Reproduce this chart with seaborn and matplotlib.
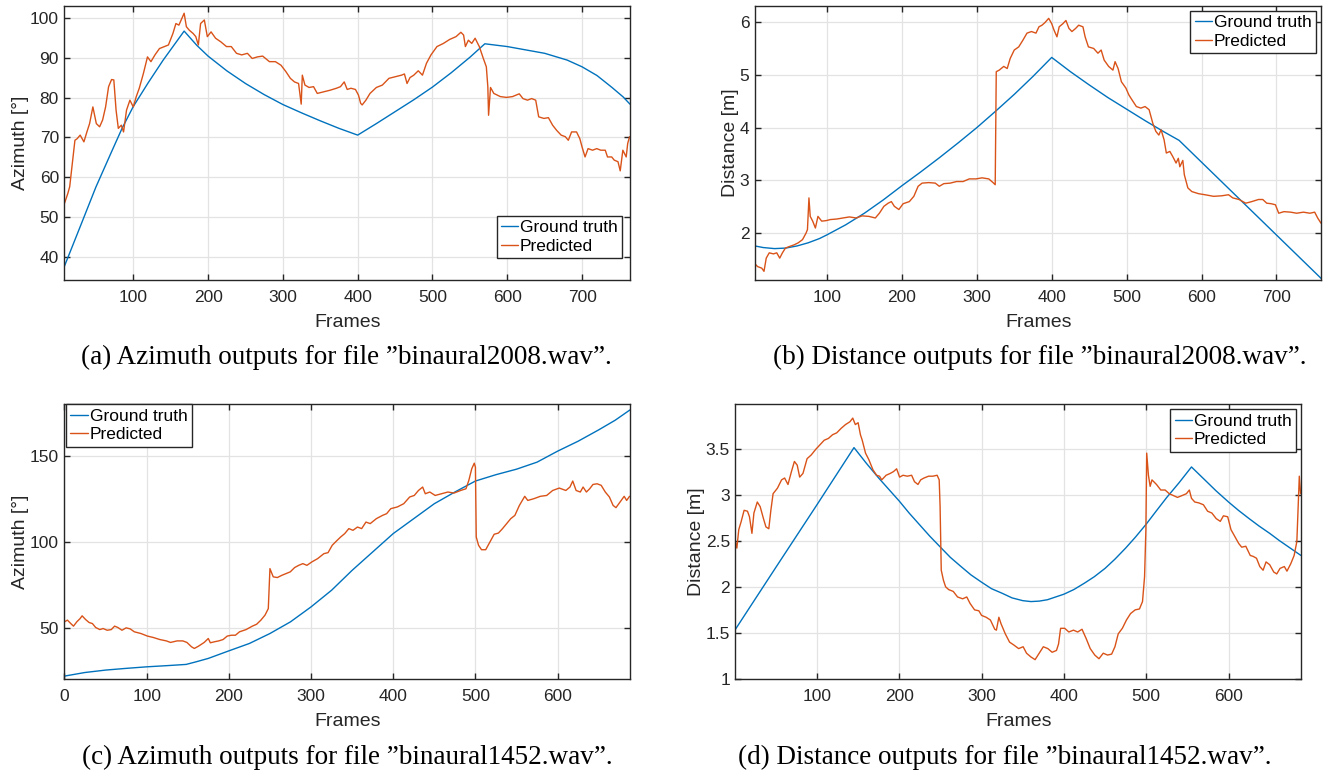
import numpy as np
import pandas as pd
import matplotlib
matplotlib.use("Agg")
import matplotlib.pyplot as plt
import seaborn as sns
from matplotlib.ticker import FuncFormatter

# ---------------- data ----------------
series_names = ["Ground truth", "Predicted"]

# (a) azimuth, binaural2008
a_gt_x = [8, 30, 50, 70, 85, 100, 120, 140, 168, 185, 200, 225, 250, 275, 300, 325, 350, 375, 400,
          425, 450, 475, 500, 525, 550, 570, 600, 650, 680, 700, 720, 740, 755, 764]
a_gt_y = [37.6, 48.0, 57.5, 66.0, 72.3, 77.8, 83.8, 89.5, 96.8, 93.2, 90.5, 86.8, 83.6, 80.8, 78.3, 76.2, 74.2, 72.3, 70.6,
          73.5, 76.5, 79.5, 82.7, 86.3, 90.2, 93.6, 92.9, 91.2, 89.5, 87.8, 85.6, 82.6, 80.2, 78.4]
a_pr_x = [8, 12.5, 15, 17, 19, 22, 25, 29, 34, 38, 41.6, 46, 50.6, 55, 59, 63, 67, 71, 74, 77, 80, 84, 87, 91, 95.5, 100,
          104, 108, 113.5, 119, 123.6, 129, 135, 141.5, 147, 153, 157, 161, 165, 168, 171, 175, 180, 183.6, 187, 190, 195,
          199, 204, 210, 217, 224.6, 231, 238, 245, 252.6, 259, 266, 273, 282, 290, 297.5, 304, 310, 315.5, 321, 324.5,
          326, 329.5, 335, 341, 346, 354.8, 363, 371.6, 377, 382, 386, 391, 397, 401, 404, 406, 411, 416.5, 425, 433,
          441.8, 450, 458.6, 462.5, 466, 470, 475, 481, 486.6, 492, 498, 506, 514.7, 523, 531.5, 538, 541.6, 544, 548,
          552.5, 557, 562.6, 568, 572, 574, 575, 577.6, 582, 590.7, 599, 607, 616, 621, 627, 632.6, 638, 642, 649, 655,
          660.6, 666, 672, 677.6, 681.6, 686, 692.6, 697, 700, 704, 708, 714, 719.6, 725, 731, 734, 739.6, 743, 748, 751,
          754.5, 759, 761, 763.5]
a_pr_y = [53.4, 55.9, 57.6, 61.0, 64.3, 69.3, 69.7, 70.6, 68.9, 71.4, 73.5, 77.7, 73.5, 72.7, 74.4, 77.7, 82.8, 84.6, 84.5,
          76.9, 72.3, 73.1, 71.4, 76.9, 79.4, 77.7, 80.3, 82.4, 86.1, 90.3, 89.1, 90.8, 92.4, 92.9, 93.3, 96.2, 98.7,
          98.3, 100.0, 101.3, 97.9, 97.0, 96.2, 95.4, 93.3, 98.7, 99.6, 95.4, 96.6, 95.0, 94.1, 92.9, 92.9, 91.2, 90.8,
          91.2, 89.9, 90.3, 90.5, 89.1, 89.1, 88.2, 86.6, 84.9, 84.0, 83.6, 78.4, 85.7, 83.2, 82.6, 82.8, 81.1, 81.5,
          81.9, 82.4, 82.8, 84.0, 82.1, 82.4, 82.1, 80.7, 78.6, 78.2, 79.4, 81.1, 82.6, 83.2, 84.9, 85.3, 85.7, 86.0,
          83.6, 85.1, 85.7, 86.8, 85.7, 88.7, 90.8, 92.9, 93.7, 94.7, 95.4, 96.5, 95.8, 92.9, 94.5, 93.7, 95.0, 92.9,
          89.9, 87.8, 82.8, 75.6, 82.6, 81.1, 80.3, 80.1, 80.3, 81.0, 79.8, 79.4, 79.8, 79.4, 75.2, 74.8, 75.0, 73.1,
          71.8, 70.6, 70.2, 69.3, 71.4, 71.4, 69.7, 67.6, 65.1, 67.2, 66.8, 67.2, 66.8, 66.8, 65.1, 65.1, 64.3, 63.9,
          61.6, 66.8, 65.1, 68.5, 70.2]

# (b) distance, binaural2008
b_gt_x = [4, 15, 30, 45, 60, 75, 90, 100, 125, 150, 175, 200, 225, 250, 275, 300, 325, 350, 375, 400,
          425, 450, 475, 500, 525, 550, 570, 760]
b_gt_y = [1.76, 1.73, 1.71, 1.72, 1.76, 1.82, 1.9, 1.97, 2.16, 2.38, 2.63, 2.9, 3.16, 3.43, 3.71, 4.0, 4.31, 4.63, 4.97,
          5.33, 5.06, 4.81, 4.57, 4.35, 4.13, 3.92, 3.76, 1.14]
b_pr_x = [4, 7.4, 13, 16, 19, 23, 28.6, 33, 37, 40.6, 44.6, 50, 56, 61.7, 67.4, 72, 74, 76, 77.7, 81, 84.6, 88, 93, 99,
          104.6, 113, 121.7, 130, 139, 147, 156, 164.6, 170, 176, 181.7, 186, 190, 196, 201.7, 210, 216, 221.7, 227, 236,
          244.6, 250, 256, 264.6, 273, 281.7, 290, 299, 307, 316, 321.7, 324.6, 326, 330, 336, 340.6, 344.6, 350, 356,
          361.7, 367, 373, 379, 383, 387, 391, 396, 400, 403, 407, 410, 415, 419, 423, 427, 432, 436, 441.7, 444.6, 449,
          456, 461.7, 466, 470, 476, 481.7, 484.6, 488.6, 493, 499, 503, 507, 513, 519, 524.6, 530, 535, 539, 543, 546,
          550, 553, 557.7, 561.7, 566, 569, 571, 575, 577, 581.7, 587, 596, 604.6, 616, 627, 636, 641.7, 650, 659, 667,
          676, 681.7, 687, 693, 698.6, 703, 710, 719, 727, 736, 744.6, 751, 755, 759.5]
b_pr_y = [1.42, 1.37, 1.34, 1.28, 1.53, 1.63, 1.61, 1.63, 1.53, 1.63, 1.72, 1.75, 1.78, 1.82, 1.88, 2.0, 2.07, 2.67, 2.32,
          2.23, 2.1, 2.32, 2.23, 2.24, 2.26, 2.27, 2.29, 2.31, 2.29, 2.33, 2.32, 2.29, 2.38, 2.51, 2.57, 2.6, 2.51, 2.45,
          2.56, 2.6, 2.7, 2.89, 2.95, 2.96, 2.95, 2.89, 2.94, 2.95, 2.98, 2.98, 3.03, 3.03, 3.05, 3.03, 2.96, 2.92, 5.06,
          5.09, 5.16, 5.12, 5.31, 5.47, 5.53, 5.66, 5.79, 5.82, 5.79, 5.91, 5.94, 5.99, 6.07, 5.97, 5.85, 5.72, 5.91,
          5.97, 6.03, 5.88, 5.82, 5.88, 5.94, 5.91, 5.72, 5.53, 5.5, 5.41, 5.47, 5.28, 5.16, 5.09, 5.25, 5.12, 4.87, 4.75,
          4.62, 4.53, 4.4, 4.37, 4.4, 4.34, 4.08, 3.93, 3.86, 3.96, 3.77, 3.52, 3.55, 3.45, 3.33, 3.42, 3.26, 3.38, 3.11,
          2.86, 2.79, 2.75, 2.73, 2.7, 2.71, 2.73, 2.67, 2.64, 2.57, 2.6, 2.64, 2.64, 2.57, 2.56, 2.54, 2.38, 2.41, 2.4,
          2.38, 2.4, 2.38, 2.4, 2.29, 2.19]

# (c) azimuth, binaural1452
c_gt_x = [0, 25, 50, 75, 100, 125, 148, 160, 175, 200, 225, 250, 275, 300, 325, 350, 375, 400, 425, 450, 475, 500, 525,
          550, 575, 600, 625, 650, 670, 688]
c_gt_y = [21.7, 23.8, 25.2, 26.2, 27.1, 27.8, 28.5, 30.0, 32.0, 36.4, 40.7, 46.5, 53.3, 62.0, 71.7, 83.3, 94.0, 104.7,
          113.4, 122.1, 128.9, 135.3, 139.0, 142.2, 146.3, 152.7, 158.5, 165.1, 170.7, 176.7]
c_pr_x = [0, 3.6, 7.7, 11, 15, 19, 21.5, 25.6, 30, 34, 38, 43, 47, 52, 57, 61, 65, 70, 75, 80, 85, 93, 101, 108, 116, 124,
          129, 137, 144, 149, 154.5, 158, 163, 170, 175, 177.5, 182.6, 187.7, 193, 198, 203, 208, 213, 221, 228.6, 233.8,
          239, 244, 248, 250, 254, 259, 264.5, 269.6, 274.7, 280, 285, 290, 295, 301, 308, 315.6, 320.7, 325.8, 331, 336,
          341, 346, 351, 356.5, 361.6, 366.8, 372, 379.5, 387, 392, 397, 405, 412.8, 420, 425.6, 430.7, 435.8, 439, 444.5,
          451, 459, 466.5, 474, 482, 488.5, 492, 495.5, 498.6, 500, 501, 503.8, 507.4, 512.5, 517.6, 522.8, 528, 533, 538,
          543, 548, 553.5, 560, 563.7, 571, 579, 586.7, 594, 602, 610, 615, 618.4, 622.5, 627.6, 631, 635, 639, 643, 648,
          653, 658, 663, 667.5, 671, 676, 681, 684, 687.5]
c_pr_y = [53.3, 54.3, 52.3, 50.8, 53.3, 55.2, 56.8, 54.7, 52.9, 52.3, 50.0, 48.8, 49.4, 48.4, 48.8, 50.8, 50.0, 48.4, 49.8,
          49.2, 47.5, 46.5, 45.0, 44.2, 43.0, 42.2, 41.3, 42.2, 42.2, 41.3, 38.8, 37.8, 39.1, 41.3, 43.6, 41.1, 41.7, 42.2,
          43.0, 45.0, 45.5, 45.5, 47.5, 48.8, 50.8, 51.9, 54.3, 57.2, 61.0, 84.3, 79.5, 79.1, 80.4, 81.4, 82.4, 84.9, 86.2,
          87.2, 86.2, 88.2, 90.1, 93.0, 93.6, 97.9, 100.4, 102.7, 104.7, 107.6, 106.6, 108.5, 107.6, 111.4, 110.5, 113.4,
          115.3, 116.3, 119.2, 120.2, 122.1, 126.0, 126.9, 129.8, 131.8, 127.9, 128.9, 126.9, 127.9, 128.9, 128.3, 129.8,
          130.8, 135.7, 142.4, 145.7, 143.4, 102.7, 97.9, 95.3, 95.3, 99.8, 104.3, 105.0, 107.6, 110.5, 113.4, 115.3,
          121.1, 126.4, 124.0, 125.0, 126.4, 126.9, 129.8, 131.2, 129.8, 131.8, 135.3, 129.8, 128.9, 131.8, 128.9, 130.8,
          133.3, 133.7, 132.8, 128.9, 126.0, 121.1, 119.8, 123.1, 126.4, 124.0, 126.4]

# (d) distance, binaural1452
d_gt_x = [1, 50, 100, 145, 160, 175, 190, 200, 212, 225, 237, 250, 262, 275, 287, 300, 312, 325, 337, 350, 360, 370, 380,
          390, 400, 412, 425, 437, 450, 462, 475, 487, 500, 512, 525, 540, 555, 570, 585, 600, 612, 625, 637, 650, 662,
          675, 688]
d_gt_y = [1.54, 2.21, 2.89, 3.51, 3.34, 3.18, 3.03, 2.93, 2.8, 2.67, 2.55, 2.43, 2.32, 2.22, 2.13, 2.05, 1.98, 1.93, 1.88,
          1.85, 1.84, 1.845, 1.86, 1.89, 1.92, 1.97, 2.04, 2.11, 2.2, 2.3, 2.42, 2.54, 2.68, 2.82, 2.97, 3.13, 3.3, 3.17,
          3.04, 2.92, 2.83, 2.74, 2.66, 2.58, 2.5, 2.42, 2.34]
d_pr_x = [1, 2.7, 5, 8, 11.5, 15.6, 18, 21, 23.4, 27.5, 31, 35, 38, 41.5, 44, 46.7, 52, 57, 60.7, 64.8, 69, 72.6, 76, 79, 83,
          88, 93, 98.4, 103.6, 108.8, 114, 119, 124, 129.5, 134.7, 140, 143.5, 146.6, 150, 152.8, 155, 159, 163, 168, 172.5,
          176, 178.7, 184, 189, 193, 196.8, 200.4, 204.6, 209.7, 215, 218.5, 222.7, 226, 230, 235.6, 240.8, 246, 248.5,
          249.6, 251, 253.7, 256.3, 260, 265.6, 270.8, 277, 282, 286, 291.5, 296.7, 300, 305.5, 310.7, 316, 318, 321,
          323.6, 328.8, 334, 339, 345, 350.5, 354.6, 359.8, 365, 370, 375, 380.5, 385.7, 391, 393.5, 396, 401, 406, 411.6,
          416.8, 422, 427, 432, 437.5, 442.6, 447.8, 453, 458, 462, 466, 471, 476, 481, 486.6, 491.8, 495.5, 498, 499.6,
          500.6, 502.7, 504.8, 507, 512.5, 517.7, 523, 528, 533, 538, 543.6, 548.8, 552.4, 555, 559, 564, 569.5, 574.6,
          579.8, 585, 590, 593.8, 599, 603, 608, 612.4, 616, 621, 626.4, 630, 634, 638, 642, 645.6, 650, 655, 658.6, 662.6,
          667.8, 671, 675.6, 679.7, 683, 686, 687.5]
d_pr_y = [2.49, 2.42, 2.62, 2.71, 2.83, 2.82, 2.76, 2.58, 2.8, 2.92, 2.87, 2.74, 2.65, 2.63, 2.83, 3.01, 3.07, 3.16, 3.18,
          3.11, 3.25, 3.36, 3.32, 3.19, 3.23, 3.39, 3.43, 3.49, 3.54, 3.59, 3.61, 3.65, 3.67, 3.72, 3.76, 3.79, 3.83, 3.76,
          3.78, 3.65, 3.59, 3.45, 3.38, 3.27, 3.21, 3.2, 3.16, 3.21, 3.23, 3.25, 3.28, 3.19, 3.21, 3.2, 3.21, 3.14, 3.11,
          3.16, 3.18, 3.2, 3.2, 3.21, 3.16, 2.87, 2.18, 2.07, 2.0, 1.97, 1.95, 1.89, 1.87, 1.89, 1.82, 1.75, 1.74, 1.69,
          1.67, 1.64, 1.54, 1.53, 1.67, 1.6, 1.49, 1.4, 1.37, 1.33, 1.35, 1.28, 1.24, 1.21, 1.28, 1.35, 1.33, 1.29, 1.31,
          1.38, 1.55, 1.55, 1.51, 1.53, 1.51, 1.54, 1.44, 1.33, 1.26, 1.22, 1.28, 1.26, 1.27, 1.35, 1.49, 1.55, 1.64, 1.71,
          1.75, 1.76, 1.84, 2.11, 2.62, 3.45, 3.21, 3.09, 3.16, 3.11, 3.05, 3.05, 3.01, 2.99, 2.97, 2.99, 3.01, 3.05, 2.96,
          2.92, 2.91, 2.89, 2.82, 2.8, 2.74, 2.71, 2.77, 2.76, 2.62, 2.54, 2.47, 2.43, 2.44, 2.34, 2.33, 2.31, 2.22, 2.18,
          2.27, 2.24, 2.16, 2.14, 2.2, 2.22, 2.17, 2.25, 2.34, 2.49, 3.2, 3.01]

captions = [
    "(a) Azimuth outputs for file \u201dbinaural2008.wav\u201d.",
    "(b) Distance outputs for file \u201dbinaural2008.wav\u201d.",
    "(c) Azimuth outputs for file \u201dbinaural1452.wav\u201d.",
    "(d) Distance outputs for file \u201dbinaural1452.wav\u201d.",
]

# ---------------- style ----------------
sns.set_theme(style="white")
plt.rcParams["font.family"] = ["Liberation Sans", "DejaVu Sans"]
plt.rcParams["axes.unicode_minus"] = False

palette = {"Ground truth": "#0072BD", "Predicted": "#D95319"}
dark = "#262626"


def make_df(gx, gy, px, py):
    g = pd.DataFrame({"Frames": gx, "value": gy, "series": series_names[0]})
    p = pd.DataFrame({"Frames": px, "value": py, "series": series_names[1]})
    return pd.concat([g, p], ignore_index=True)


fig = plt.figure(figsize=(13.29, 7.77), dpi=100)

panels = [
    dict(pos=[0.0485, 0.6396, 0.4255, 0.3531], df=make_df(a_gt_x, a_gt_y, a_pr_x, a_pr_y),
         xlim=(8, 764), ylim=(34.1, 103.2), xt=[100, 200, 300, 400, 500, 600, 700],
         yt=[40, 50, 60, 70, 80, 90, 100], ylabel="Azimuth [\u00b0]",
         leg=dict(loc="lower right", bbox_to_anchor=(0.986, 0.08))),
    dict(pos=[0.5681, 0.6396, 0.4262, 0.3531], df=make_df(b_gt_x, b_gt_y, b_pr_x, b_pr_y),
         xlim=(4, 760), ylim=(1.115, 6.31), xt=[100, 200, 300, 400, 500, 600, 700],
         yt=[2, 3, 4, 5, 6], ylabel="Distance [m]",
         leg=dict(loc="upper right", bbox_to_anchor=(0.990, 0.981))),
    dict(pos=[0.0485, 0.1261, 0.4255, 0.3536], df=make_df(c_gt_x, c_gt_y, c_pr_x, c_pr_y),
         xlim=(0, 688), ylim=(20, 180), xt=[0, 100, 200, 300, 400, 500, 600],
         yt=[50, 100, 150], ylabel="Azimuth [\u00b0]",
         leg=dict(loc="upper left", bbox_to_anchor=(0.003, 1.0))),
    dict(pos=[0.5534, 0.1261, 0.4255, 0.3536], df=make_df(d_gt_x, d_gt_y, d_pr_x, d_pr_y),
         xlim=(1, 688), ylim=(1.0, 3.98), xt=[100, 200, 300, 400, 500, 600],
         yt=[1, 1.5, 2, 2.5, 3, 3.5], ylabel="Distance [m]",
         leg=dict(loc="upper right", bbox_to_anchor=(0.991, 0.982))),
]

for p in panels:
    ax = fig.add_axes(p["pos"])
    sns.lineplot(data=p["df"], x="Frames", y="value", hue="series", palette=palette,
                 estimator=None, sort=False, linewidth=1.0, ax=ax)
    ax.set_xlim(*p["xlim"])
    ax.set_ylim(*p["ylim"])
    ax.set_xticks(p["xt"])
    ax.set_yticks(p["yt"])
    ax.yaxis.set_major_formatter(FuncFormatter(lambda v, _: "%g" % v))
    ax.grid(True, color="#e3e3e3", linewidth=0.9)
    ax.set_axisbelow(True)
    for s in ax.spines.values():
        s.set_visible(True)
        s.set_color(dark)
        s.set_linewidth(1.0)
    ax.tick_params(axis="both", which="both", direction="in", length=4.5, width=1.0,
                   color=dark, labelcolor=dark, labelsize=12.5, top=True, right=True,
                   bottom=True, left=True)
    ax.tick_params(axis="x", pad=7)
    ax.tick_params(axis="y", pad=4)
    ax.set_xlabel("Frames", fontsize=14, color=dark, labelpad=7)
    ax.set_ylabel(p["ylabel"], fontsize=14, color=dark, labelpad=0.5)
    handles, labels = ax.get_legend_handles_labels()
    leg = ax.legend(handles, labels, bbox_transform=ax.transAxes, fontsize=12.5,
                    frameon=True, fancybox=False, framealpha=1, edgecolor=dark,
                    handlelength=1.0, handletextpad=0.1, labelspacing=0.2,
                    borderpad=0.25, borderaxespad=0, **p["leg"])
    leg.get_frame().set_linewidth(1.0)
    for t in leg.get_texts():
        t.set_color("black")

cap_pos = [(0.261, 0.5405), (0.7825, 0.5405), (0.261, 0.0257), (0.756, 0.0257)]
for (cx, cy), txt in zip(cap_pos, captions):
    fig.text(cx, cy, txt, ha="center", va="center", fontsize=19.5,
             family=["Liberation Serif", "DejaVu Serif"], color="black")

fig.savefig("out.png", dpi=100)
